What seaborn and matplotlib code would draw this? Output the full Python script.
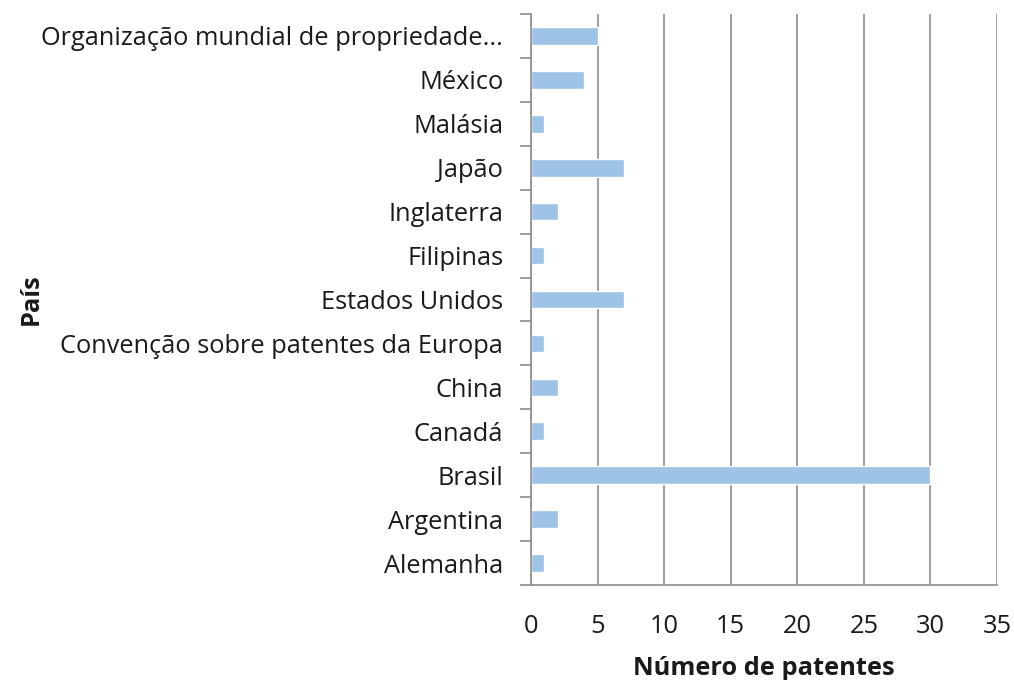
import matplotlib
matplotlib.use("Agg")
import matplotlib.pyplot as plt
import seaborn as sns
import pandas as pd
import numpy as np

paises = ["Organização mundial de propriedade...", "México", "Malásia", "Japão",
          "Inglaterra", "Filipinas", "Estados Unidos",
          "Convenção sobre patentes da Europa", "China", "Canadá", "Brasil",
          "Argentina", "Alemanha"]
patentes = [5, 4, 1, 7, 2, 1, 7, 1, 2, 1, 30, 2, 1]
xticks = [0, 5, 10, 15, 20, 25, 30, 35]

sns.set_theme(style="white")
plt.rcParams['font.family'] = ['Open Sans', 'DejaVu Sans']

df = pd.DataFrame({"País": paises, "Número de patentes": patentes})

fig = plt.figure(figsize=(10.14, 6.80), dpi=100)
ax = fig.add_axes([0.5237, 0.1397, 0.4595, 0.8397])
sns.barplot(data=df, y="País", x="Número de patentes", orient="h",
            color="#9DC3E6", width=0.4, saturation=1, ax=ax)

gray = "#8C8C8C"
fs = 18.3
ax.set_xlim(0, 35)
ax.set_ylim(len(paises) - 0.5, -0.5)
ax.set_xticks(xticks)
ax.set_xticklabels([str(v) for v in xticks], fontsize=fs)
ax.xaxis.grid(True, color=gray, linewidth=1.2)
ax.set_axisbelow(True)
for s in ["top", "right"]:
    ax.spines[s].set_visible(False)
for s in ["left", "bottom"]:
    ax.spines[s].set_color(gray)
    ax.spines[s].set_linewidth(1.2)

ax.tick_params(axis="x", which="major", direction="out", length=8, width=1.2,
               color=gray, pad=13, labelcolor="#1a1a1a")
ax.set_yticks(np.arange(len(paises)))
ax.set_yticklabels(paises, fontsize=fs, color="#1a1a1a")
ax.set_yticks(np.arange(len(paises) + 1) - 0.5, minor=True)
ax.tick_params(axis="y", which="major", length=0, pad=20)
ax.tick_params(axis="y", which="minor", direction="out", length=8, width=1.2,
               color=gray, left=True)

ax.set_xlabel("Número de patentes", fontsize=fs, fontweight="bold",
              color="#1a1a1a", labelpad=12)
ax.set_ylabel("País", fontsize=fs, fontweight="bold", color="#1a1a1a")
ax.yaxis.set_label_coords(-1.045, 0.5)

fig.savefig("out.png", dpi=100)
